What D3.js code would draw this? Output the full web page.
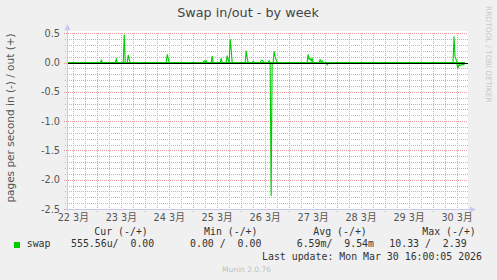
<!DOCTYPE html>
<html>
  <head>
    <meta charset="utf-8">
    <script src="https://cdnjs.cloudflare.com/ajax/libs/d3/7.8.5/d3.min.js"></script>
    <style>
      body { margin: 0; background: #f0f0f0; }
      text { white-space: pre; }
    </style>
  </head>
  <body>
    <div id="vis"></div>
    <script type="text/javascript">

        // swap out (+), half-hour samples, only the non-flat stretches
        const swapOut = [
          ["03-22 08:30", 0], ["03-23 01:30", 0], ["03-23 02:00", 0.04], ["03-23 02:30", 0],
          ["03-23 09:00", 0], ["03-23 09:30", 0.06], ["03-23 10:00", 0],
          ["03-23 13:00", 0], ["03-23 13:30", 0.48], ["03-23 14:00", 0],
          ["03-23 15:00", 0], ["03-23 15:30", 0.13], ["03-23 16:00", 0.05], ["03-23 16:30", 0],
          ["03-24 10:30", 0], ["03-24 11:00", 0.14], ["03-24 11:30", 0.07], ["03-24 12:00", 0],
          ["03-25 05:00", 0], ["03-25 05:30", 0.03], ["03-25 06:00", 0.02], ["03-25 06:30", 0.03], ["03-25 07:00", 0],
          ["03-25 09:00", 0], ["03-25 09:30", 0.11], ["03-25 10:00", 0],
          ["03-25 13:30", 0], ["03-25 14:00", 0.07], ["03-25 14:30", 0],
          ["03-25 16:30", 0], ["03-25 17:00", 0.12], ["03-25 17:30", 0.05], ["03-25 18:00", 0],
          ["03-25 18:30", 0.40], ["03-25 19:00", 0.22], ["03-25 19:30", 0],
          ["03-26 02:00", 0], ["03-26 02:30", 0.20], ["03-26 03:00", 0.08], ["03-26 03:30", 0],
          ["03-26 05:30", 0], ["03-26 06:00", 0.02], ["03-26 06:30", 0],
          ["03-26 09:30", 0], ["03-26 10:00", 0.03], ["03-26 10:30", 0.04], ["03-26 11:00", 0.02], ["03-26 11:30", 0],
          ["03-26 13:30", 0], ["03-26 14:00", 0.03], ["03-26 14:30", 0],
          ["03-26 16:00", 0], ["03-26 16:30", 0.19], ["03-26 17:00", 0.10], ["03-26 17:30", 0.05], ["03-26 18:00", 0],
          ["03-27 09:00", 0], ["03-27 09:30", 0.14], ["03-27 10:00", 0.06], ["03-27 10:30", 0.07],
          ["03-27 11:00", 0.03], ["03-27 11:30", 0.07], ["03-27 12:00", 0],
          ["03-27 15:00", 0], ["03-27 15:30", 0.05], ["03-27 16:00", 0.02], ["03-27 16:30", 0.03], ["03-27 17:00", 0],
          ["03-30 10:00", 0], ["03-30 10:30", 0.45], ["03-30 11:00", 0.10], ["03-30 11:30", 0.06], ["03-30 12:00", 0],
          ["03-30 16:00", 0]
        ];

        // swap in (-)
        const swapIn = [
          ["03-22 08:30", 0], ["03-26 14:30", 0], ["03-26 15:00", -2.28], ["03-26 15:30", 0],
          ["03-27 18:30", 0], ["03-27 19:00", -0.04], ["03-27 19:30", 0],
          ["03-30 11:30", 0], ["03-30 12:00", -0.03], ["03-30 12:30", -0.10], ["03-30 13:00", -0.03],
          ["03-30 13:30", -0.05], ["03-30 14:00", -0.04], ["03-30 14:30", -0.03], ["03-30 15:00", -0.04],
          ["03-30 15:30", -0.02], ["03-30 16:00", -0.03]
        ];

        const dayLabels = ["22", "23", "24", "25", "26", "27", "28", "29", "30"];
        const yTicks = [0.5, 0.0, -0.5, -1.0, -1.5, -2.0, -2.5];
        const yMinor = [0.4, 0.3, 0.2, 0.1, -0.1, -0.2, -0.3, -0.4, -0.6, -0.7, -0.8, -0.9,
                        -1.1, -1.2, -1.3, -1.4, -1.6, -1.7, -1.8, -1.9, -2.1, -2.2, -2.3, -2.4];

        const legendHeads = ["Cur (-/+)", "Min (-/+)", "Avg (-/+)", "Max (-/+)"];
        const legendVals = ["555.56u/  0.00", "0.00 /  0.00", "6.59m/  9.54m", "10.33 /  2.39"];

        const parse = d3.timeParse("%Y-%m-%d %H:%M");
        const toDate = s => parse("2026-" + s);

        const W = 497, H = 280;
        const svg = d3.select("#vis").append("svg")
            .attr("width", W).attr("height", H)
            .style("display", "block");

        svg.append("rect").attr("width", W).attr("height", H).attr("fill", "#f0f0f0");

        const x = d3.scaleTime()
            .domain([new Date(2026, 2, 22, 8, 51), new Date(2026, 2, 30, 17, 30)])
            .range([67, 468]);
        const y = d3.scaleLinear().domain([-2.5, 0.5]).range([209, 33.3]);

        const x0 = x.range()[0], x1 = x.range()[1];
        const yb = Math.round(y(-2.5)), yt = Math.round(y(0.5));
        const px = v => Math.round(v) + 0.5;

        // canvas
        svg.append("rect")
            .attr("x", x0).attr("y", yt - 2)
            .attr("width", x1 - x0).attr("height", yb - yt + 2)
            .attr("fill", "#ffffff");

        // minor grid: 0.1 and every 6 hours
        const minor = svg.append("g").attr("stroke", "#b8b8b8").attr("stroke-dasharray", "1,1");
        minor.selectAll("line.hmin").data(yMinor)
            .enter().append("line").attr("class", "hmin")
            .attr("x1", x0 - 2).attr("x2", x1)
            .attr("y1", d => px(y(d))).attr("y2", d => px(y(d)));
        const hours6 = d3.timeHour.range(x.domain()[0], x.domain()[1])
            .filter(d => d.getHours() % 6 === 0 && d.getHours() !== 0);
        minor.selectAll("line.vmin").data(hours6)
            .enter().append("line").attr("class", "vmin")
            .attr("x1", d => px(x(d))).attr("x2", d => px(x(d)))
            .attr("y1", yt).attr("y2", yb + 2);

        // major grid: 0.5 and days
        const major = svg.append("g").attr("stroke", "#eb9a9a").attr("stroke-dasharray", "1,1");
        const days = d3.timeDay.range(x.domain()[0], x.domain()[1]);
        major.selectAll("line.vmaj").data(days)
            .enter().append("line").attr("class", "vmaj")
            .attr("x1", d => px(x(d))).attr("x2", d => px(x(d)))
            .attr("y1", yt).attr("y2", yb + 3);
        major.selectAll("line.hmaj").data(yTicks)
            .enter().append("line").attr("class", "hmaj")
            .attr("x1", x0 - 3).attr("x2", x1)
            .attr("y1", d => px(y(d))).attr("y2", d => px(y(d)));

        // axes with arrows
        const axisCol = "#c8c8f4";
        svg.append("line").attr("x1", x0 + 0.5).attr("x2", x0 + 0.5).attr("y1", yb + 2).attr("y2", 28)
            .attr("stroke", axisCol);
        svg.append("line").attr("x1", x0 - 2).attr("x2", 472).attr("y1", yb + 0.5).attr("y2", yb + 0.5)
            .attr("stroke", axisCol);
        svg.append("path").attr("d", `M${x0 - 2.5},${30} L${x0 + 0.5},${24} L${x0 + 3.5},${30} Z`).attr("fill", axisCol);
        svg.append("path").attr("d", `M${470},${yb - 2.5} L${476},${yb + 0.5} L${470},${yb + 3.5} Z`).attr("fill", axisCol);

        // tick labels
        svg.append("g").selectAll("text").data(yTicks).enter().append("text")
            .attr("x", 60).attr("y", d => y(d) + 3.5)
            .attr("text-anchor", "end")
            .attr("font-family", "DejaVu Sans")
            .attr("font-size", 9.7)
            .attr("fill", "#555")
            .text(d => d3.format(".1f")(d).replace("−", "-"));

        svg.append("g").selectAll("text").data(dayLabels).enter().append("text")
            .attr("x", d => x(new Date(2026, 2, +d, 12)))
            .attr("y", 221)
            .attr("text-anchor", "middle")
            .attr("font-family", "DejaVu Sans, 'Noto Sans CJK JP'")
            .attr("font-size", 9.7)
            .attr("fill", "#555")
            .text(d => d + " 3月");

        // lines
        svg.append("clipPath").attr("id", "clip").append("rect")
            .attr("x", x0 + 1).attr("y", 0).attr("width", x1 - x0).attr("height", H);
        const line = d3.line().x(d => x(toDate(d[0]))).y(d => y(d[1]));
        const plot = svg.append("g").attr("clip-path", "url(#clip)");
        [swapIn, swapOut].forEach(s => {
            plot.append("path").datum(s)
                .attr("d", line)
                .attr("fill", "none")
                .attr("stroke", "#00cc00")
                .attr("stroke-width", 1.1);
        });
        plot.append("line").attr("x1", x0 + 1).attr("x2", x1)
            .attr("y1", px(y(0))).attr("y2", px(y(0)))
            .attr("stroke", "#000").attr("stroke-width", 1);

        // titles
        svg.append("text").attr("x", 248).attr("y", 17)
            .attr("text-anchor", "middle")
            .attr("font-family", "DejaVu Sans").attr("font-size", 12.8)
            .attr("fill", "#444")
            .text("Swap in/out - by week");

        svg.append("text")
            .attr("transform", `translate(14,${(yt + yb) / 2 - 3}) rotate(-90)`)
            .attr("text-anchor", "middle")
            .attr("font-family", "DejaVu Sans").attr("font-size", 10.5)
            .attr("fill", "#555")
            .text("pages per second in (-) / out (+)");

        svg.append("text")
            .attr("transform", "translate(486,6) rotate(90)")
            .attr("font-family", "DejaVu Sans").attr("font-size", 7.5)
            .attr("fill", "#c8c8c8")
            .text("RRDTOOL / TOBI OETIKER");

        // legend
        const mono = "'DejaVu Sans Mono'";
        const headX = [94.3, 204, 313.3, 422.3];
        const valX = [71, 190, 296.7, 389.3];
        const leg = svg.append("g").attr("font-family", mono).attr("font-size", 9.9).attr("fill", "#333");
        leg.selectAll("text.h").data(legendHeads).enter().append("text")
            .attr("x", (d, i) => headX[i]).attr("y", 235).text(d => d);
        leg.selectAll("text.v").data(legendVals).enter().append("text")
            .attr("x", (d, i) => valX[i]).attr("y", 247).text(d => d);
        leg.append("text").attr("x", 26.7).attr("y", 247).text("swap");
        leg.append("text").attr("x", 262).attr("y", 259.5).text("Last update: Mon Mar 30 16:00:05 2026");
        svg.append("rect").attr("x", 14).attr("y", 242).attr("width", 6).attr("height", 6)
            .attr("fill", "#00cc00");

        svg.append("text").attr("x", 222).attr("y", 271.5)
            .attr("font-family", "DejaVu Sans").attr("font-size", 7.5)
            .attr("fill", "#c0c0c0")
            .text("Munin 2.0.76");

    </script>
  </body>
</html>
